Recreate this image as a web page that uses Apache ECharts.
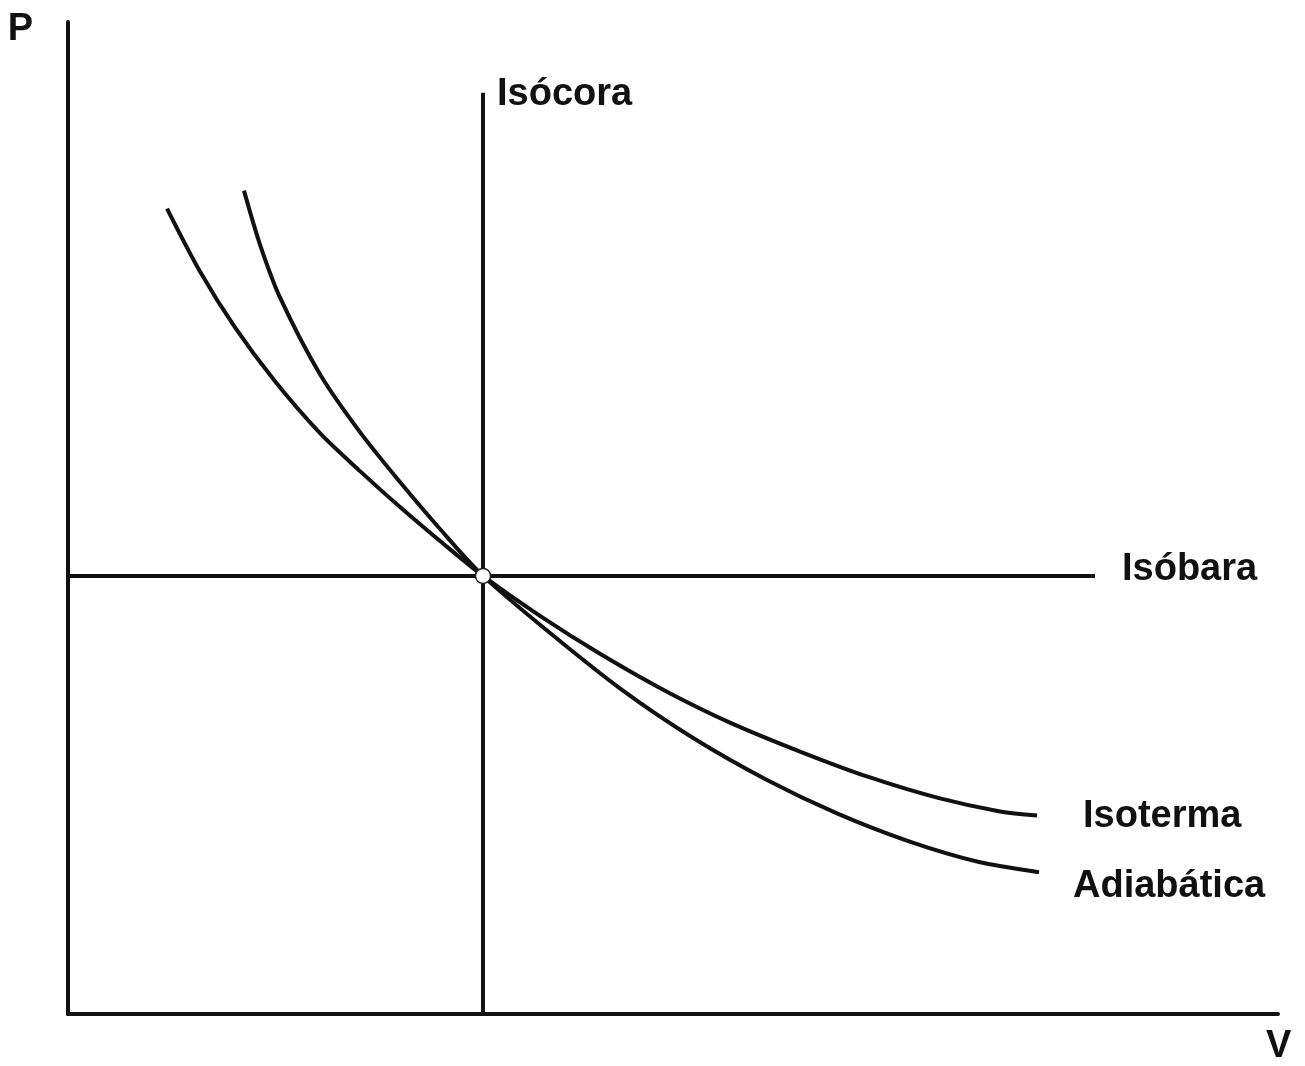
<!DOCTYPE html>
<html>
<head>
<meta charset="utf-8">
<title>Diagrama P–V</title>
<script src="https://cdn.jsdelivr.net/npm/echarts@6/dist/echarts.min.js"></script>
<style>
  html, body { margin: 0; padding: 0; background: #ffffff; }
  #chart { width: 1305px; height: 1066px; }
</style>
</head>
<body>
<div id="chart"></div>
<script>
// Diagrama P–V: isóbara, isócora, isoterma y adiabática que pasan por un mismo estado.

// Estado común (V, P)
const estadoV = 4.15;
const estadoP = 4.39;

// Isóbara: P constante
const isobaraV = [0, 10.27];
const isobaraP = [estadoP, estadoP];

// Isócora: V constante
const isocoraV = [estadoV, estadoV];
const isocoraP = [0, 9.23];

// Isoterma
const isotermaV = [0.99, 1.32, 1.67, 2.07, 2.52, 2.92, 3.32, 3.72, 4.15, 4.72, 5.32, 5.97, 6.62, 7.32, 8.02, 8.72, 9.32, 9.69];
const isotermaP = [8.07, 7.44, 6.88, 6.34, 5.82, 5.44, 5.08, 4.74, 4.39, 3.99, 3.61, 3.24, 2.92, 2.63, 2.37, 2.16, 2.03, 1.99];

// Adiabática
const adiabaticaV = [1.76, 1.92, 2.12, 2.52, 2.92, 3.32, 3.72, 4.15, 4.83, 5.55, 6.26, 6.98, 7.69, 8.41, 9.12, 9.71];
const adiabaticaP = [8.25, 7.71, 7.18, 6.41, 5.83, 5.33, 4.86, 4.39, 3.81, 3.24, 2.76, 2.35, 2.01, 1.73, 1.52, 1.42];

// Etiquetas
const nombres = { isobara: 'Isóbara', isocora: 'Isócora', isoterma: 'Isoterma', adiabatica: 'Adiabática' };
const ejeV = 'V';
const ejeP = 'P';

const pares = (xs, ys) => xs.map((x, i) => [x, ys[i]]);

const INK = '#111111';
const FONT = '"Liberation Sans", Arial, sans-serif';
const textoBase = { fontFamily: FONT, fontWeight: 'bold', fontSize: 38, color: INK };

function serieLinea(nombre, datos, etiquetaOffset, suave) {
  return {
    name: nombre,
    type: 'line',
    data: datos,
    smooth: suave,
    symbol: 'none',
    silent: true,
    lineStyle: { color: INK, width: 4 },
    endLabel: Object.assign({
      show: true,
      formatter: nombre,
      distance: 0,
      offset: etiquetaOffset
    }, textoBase),
    z: 2
  };
}

const chart = echarts.init(document.getElementById('chart'), null, { renderer: 'canvas' });

chart.setOption({
  backgroundColor: '#ffffff',
  animation: false,
  grid: { left: 68, right: 27, top: 22, bottom: 50, containLabel: false },
  xAxis: {
    type: 'value',
    min: 0,
    max: 12.1,
    name: ejeV,
    nameLocation: 'end',
    nameGap: -12,
    nameTextStyle: Object.assign({ align: 'left', verticalAlign: 'top', padding: [14, 0, 0, 0] }, textoBase),
    axisLine: { show: true, onZero: false, lineStyle: { color: INK, width: 4 } },
    axisTick: { show: false },
    axisLabel: { show: false },
    splitLine: { show: false }
  },
  yAxis: {
    type: 'value',
    min: 0,
    max: 9.94,
    name: ejeP,
    nameLocation: 'end',
    nameGap: -8,
    nameTextStyle: Object.assign({ align: 'right', verticalAlign: 'middle', padding: [0, 35, 0, 0] }, textoBase),
    axisLine: { show: true, onZero: false, lineStyle: { color: INK, width: 4 } },
    axisTick: { show: false },
    axisLabel: { show: false },
    splitLine: { show: false }
  },
  series: [
    serieLinea(nombres.isobara, pares(isobaraV, isobaraP), [27, -6], false),
    serieLinea(nombres.isocora, pares(isocoraV, isocoraP), [14, 2], false),
    serieLinea(nombres.isoterma, pares(isotermaV, isotermaP), [46, 1], 0.3),
    serieLinea(nombres.adiabatica, pares(adiabaticaV, adiabaticaP), [34, 14], 0.3),
    {
      name: 'Estado',
      type: 'scatter',
      data: [[estadoV, estadoP]],
      symbol: 'circle',
      symbolSize: 15,
      silent: true,
      itemStyle: { color: '#ffffff', borderColor: '#222222', borderWidth: 1.5, opacity: 1 },
      z: 5
    }
  ]
});
</script>
</body>
</html>
